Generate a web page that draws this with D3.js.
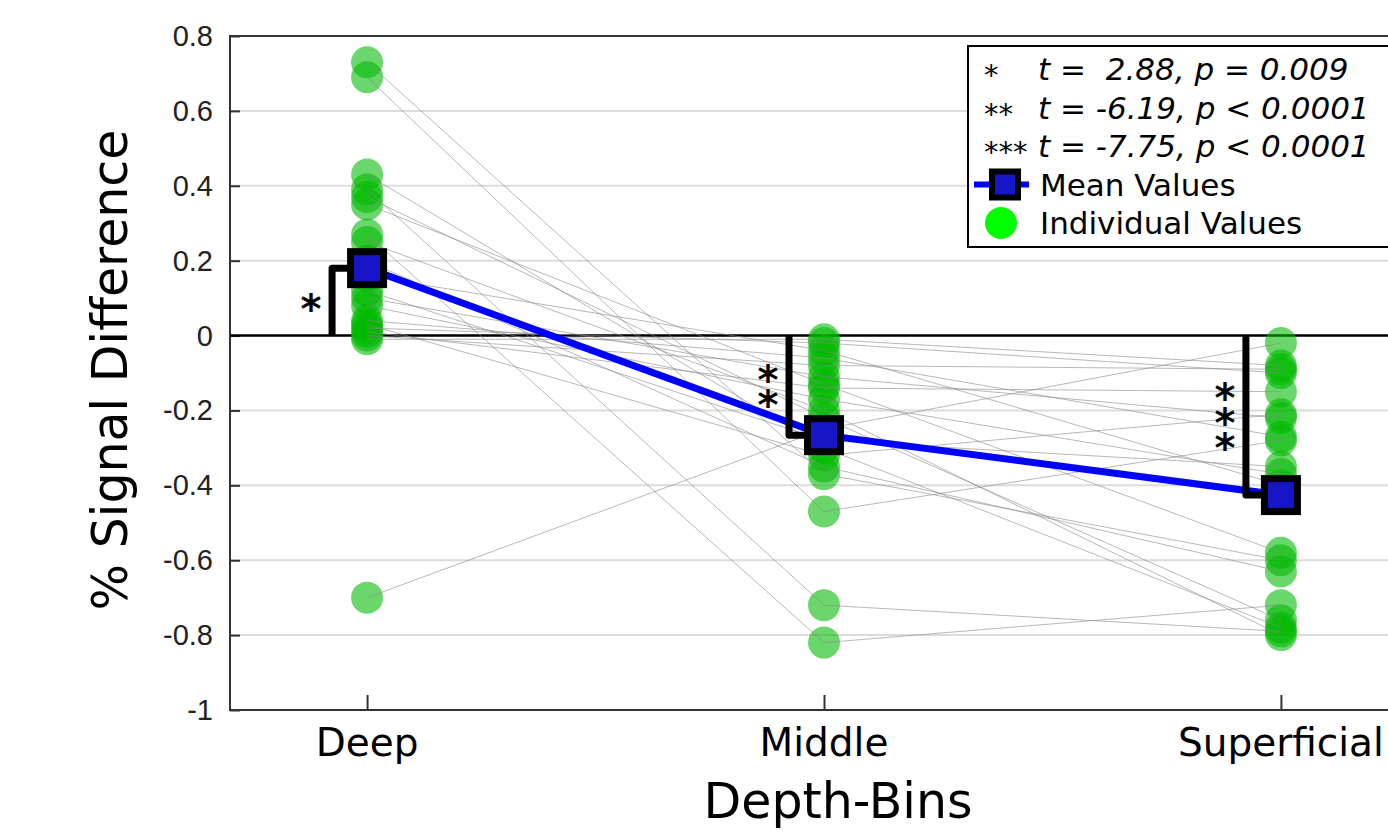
<!DOCTYPE html>
<html>
<head>
<meta charset="utf-8">
<script src="https://cdn.jsdelivr.net/npm/d3@7"></script>
<style>
  body { margin: 0; background: #fff; }
  svg { display: block; }
  text { font-family: "DejaVu Sans", sans-serif; }
</style>
</head>
<body>
<svg width="1388" height="835"></svg>
<script>
// categories and values
var categories = ["Deep", "Middle", "Superficial"];
var deepValues = [0.73, 0.69, 0.43, 0.39, 0.37, 0.35, 0.27, 0.25, 0.20, 0.16, 0.12, 0.10, 0.08, 0.04, 0.03, 0.02, 0.01, 0.00, -0.01, -0.70];
var middleValues = [-0.37, -0.47, -0.30, -0.72, -0.22, -0.13, -0.82, -0.20, -0.35, -0.04, -0.28, -0.11, -0.17, -0.06, -0.32, -0.02, -0.14, -0.08, -0.01, -0.25];
var superficialValues = [-0.60, -0.28, -0.78, -0.79, -0.76, -0.58, -0.72, -0.80, -0.63, -0.40, -0.35, -0.22, -0.37, -0.27, -0.21, -0.10, -0.15, -0.09, -0.08, -0.02];
var meanValues = [0.18, -0.266, -0.426];
var sigMarks = ["*", "**", "***"];
var legendStats = ["t =  2.88, p = 0.009", "t = -6.19, p < 0.0001", "t = -7.75, p < 0.0001"];
var yTicks = [0.8, 0.6, 0.4, 0.2, 0, -0.2, -0.4, -0.6, -0.8, -1];

var svg = d3.select("svg"),
    margin = {top: 36, left: 230, bottom: 125},
    height = +svg.attr("height") - margin.top - margin.bottom;

var x = d3.scaleLinear()
    .domain([0.7, 3.3])
    .range([margin.left, margin.left + 1188]);
var y = d3.scaleLinear()
    .domain([-1, 0.8])
    .range([margin.top + height, margin.top]);

var subjects = deepValues.map(function(d, i) {
  return [d, middleValues[i], superficialValues[i]];
});

// grid
svg.append("g").selectAll("line")
    .data(yTicks)
  .enter().append("line")
    .attr("x1", x.range()[0]).attr("x2", x.range()[1])
    .attr("y1", function(d) { return y(d); })
    .attr("y2", function(d) { return y(d); })
    .style("stroke", "#dcdcdc")
    .style("stroke-width", 2);

// axes box
var axisColor = "#333";
svg.append("rect")
    .attr("x", x.range()[0]).attr("y", margin.top)
    .attr("width", x.range()[1] - x.range()[0])
    .attr("height", height)
    .style("fill", "none")
    .style("stroke", axisColor)
    .style("stroke-width", 2);

// y axis
var yAxis = svg.append("g")
    .attr("transform", "translate(" + x.range()[0] + ",0)")
    .call(d3.axisRight(y).tickValues(yTicks).tickSize(10).tickFormat(""));
yAxis.select(".domain").remove();
yAxis.selectAll("line").style("stroke", axisColor).style("stroke-width", 2);

svg.append("g").selectAll("text")
    .data(yTicks)
  .enter().append("text")
    .attr("x", 213)
    .attr("y", function(d) { return y(d) + 10; })
    .attr("text-anchor", "end")
    .style("font-family", "'Liberation Sans', Arial, sans-serif")
    .style("font-size", "29px")
    .style("fill", "#222")
    .text(function(d) { return d3.format("")(d).replace("\u2212", "-"); });

// x axis
var xAxis = svg.append("g")
    .attr("transform", "translate(0," + y(-1) + ")")
    .call(d3.axisTop(x).tickValues([1, 2, 3]).tickSize(15).tickFormat(""));
xAxis.select(".domain").remove();
xAxis.selectAll("line").style("stroke", axisColor).style("stroke-width", 2);

svg.append("g").selectAll("text")
    .data(categories)
  .enter().append("text")
    .attr("x", function(d, i) { return x(i + 1); })
    .attr("y", 756)
    .attr("text-anchor", "middle")
    .style("font-size", "39px")
    .text(function(d) { return d; });

svg.append("text")
    .attr("x", 838).attr("y", 818)
    .attr("text-anchor", "middle")
    .style("font-size", "49px")
    .text("Depth-Bins");

svg.append("text")
    .attr("transform", "translate(127," + 370 + ") rotate(-90)")
    .attr("text-anchor", "middle")
    .style("font-size", "49px")
    .text("% Signal Difference");

// zero line
svg.append("line")
    .attr("x1", x.range()[0]).attr("x2", x.range()[1])
    .attr("y1", y(0)).attr("y2", y(0))
    .style("stroke", "#000")
    .style("stroke-width", 2.5);

// individual values
var dots = svg.append("g");
subjects.forEach(function(s) {
  dots.selectAll(null)
      .data(s)
    .enter().append("circle")
      .attr("cx", function(d, i) { return x(i + 1); })
      .attr("cy", function(d) { return y(d); })
      .attr("r", 16)
      .style("fill", "rgb(0,185,0)")
      .style("fill-opacity", 0.58);
});

var line = d3.line()
    .x(function(d, i) { return x(i + 1); })
    .y(function(d) { return y(d); });

svg.append("g").selectAll("path")
    .data(subjects)
  .enter().append("path")
    .attr("d", line)
    .style("fill", "none")
    .style("stroke", "#888")
    .style("stroke-opacity", 0.6)
    .style("stroke-width", 1);

// mean line
svg.append("path")
    .datum(meanValues)
    .attr("d", line)
    .style("fill", "none")
    .style("stroke", "#0000ff")
    .style("stroke-width", 7);

// significance brackets
var sig = svg.append("g");
meanValues.forEach(function(m, i) {
  var bx = x(i + 1) - 35;
  sig.append("path")
      .attr("d", "M" + bx + "," + y(0) + "V" + y(m) + "H" + x(i + 1))
      .style("fill", "none")
      .style("stroke", "#000")
      .style("stroke-width", 7)
      .style("stroke-linejoin", "round");
  var mid = (y(0) + y(m)) / 2;
  // stars stacked vertically in one text element
  sig.append("text")
      .attr("x", bx - 21)
      .attr("y", mid - 3)
      .attr("text-anchor", "middle")
      .style("writing-mode", "vertical-rl")
      .style("text-orientation", "upright")
      .style("letter-spacing", "-21px")
      .style("font-size", "40px")
      .style("font-weight", "bold")
      .text(sigMarks[i]);
});

// mean squares
svg.append("g").selectAll("rect")
    .data(meanValues)
  .enter().append("rect")
    .attr("x", function(d, i) { return x(i + 1) - 16.5; })
    .attr("y", function(d) { return y(d) - 16.5; })
    .attr("width", 33).attr("height", 33)
    .style("fill", "#1616c8")
    .style("stroke", "#000")
    .style("stroke-width", 7);

// legend
var legend = svg.append("g");
legend.append("rect")
    .attr("x", 968).attr("y", 46)
    .attr("width", 440).attr("height", 201)
    .style("fill", "#fff")
    .style("stroke", "#000")
    .style("stroke-width", 2);

legendStats.forEach(function(t, i) {
  var cy = 69 + i * 38.5;
  legend.append("text")
      .attr("x", 984).attr("y", cy + 16)
      .style("font-size", "29px")
      .text(sigMarks[i]);
  legend.append("text")
      .attr("x", 1038).attr("y", cy + 11)
      .style("font-size", "31px")
      .style("font-style", "italic")
      .style("white-space", "pre")
      .text(t);
});

var meanY = 69 + 3 * 38.5;
legend.append("line")
    .attr("x1", 974).attr("x2", 1029)
    .attr("y1", meanY).attr("y2", meanY)
    .style("stroke", "#0000ff")
    .style("stroke-width", 6);
legend.append("rect")
    .attr("x", 992).attr("y", meanY - 13)
    .attr("width", 26).attr("height", 26)
    .style("fill", "#1616c8")
    .style("stroke", "#000")
    .style("stroke-width", 6);
legend.append("text")
    .attr("x", 1040).attr("y", meanY + 11)
    .style("font-size", "31px")
    .text("Mean Values");

var indY = 69 + 4 * 38.5;
legend.append("circle")
    .attr("cx", 1001).attr("cy", indY)
    .attr("r", 16)
    .style("fill", "#00ff00");
legend.append("text")
    .attr("x", 1040).attr("y", indY + 11)
    .style("font-size", "31px")
    .text("Individual Values");
</script>
</body>
</html>
